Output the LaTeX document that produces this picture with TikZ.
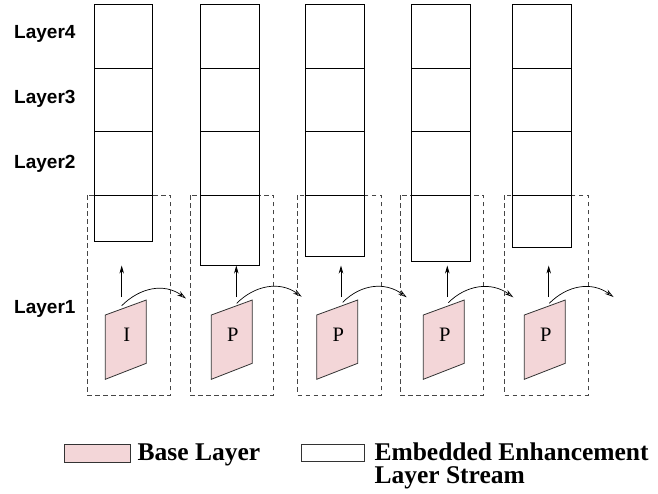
\documentclass[tikz,border=0pt]{standalone}
\usepackage{fontspec}
\setmainfont{Liberation Serif}
\newfontfamily\labelfont{Liberation Sans}
\usetikzlibrary{arrows.meta}
\definecolor{basepink}{RGB}{243,214,216}
\definecolor{dashgray}{RGB}{70,70,70}

\begin{document}
\begin{tikzpicture}[x=1pt,y=-1pt,
  layerbox/.style={draw, line width=0.8pt, inner sep=0pt, outer sep=0pt,
    minimum width=58.6pt, anchor=north west},
  groupbox/.style={draw=dashgray, line width=0.8pt, dash pattern=on 4.5pt off 3.5pt},
  baseframe/.style={draw=black!80, line width=0.8pt, fill=basepink},
  framelabel/.style={inner sep=0pt, anchor=base, font=\fontsize{20.5}{20.5}\selectfont},
  layerlabel/.style={inner sep=0pt, anchor=base west,
    font=\labelfont\bfseries\fontsize{19}{19}\selectfont},
  legendtext/.style={inner sep=0pt, anchor=base west,
    font=\bfseries\fontsize{25.5}{25.5}\selectfont},
  uparrow/.style={line width=0.7pt, -{Stealth[length=8pt,width=4.5pt,inset=2.5pt]}},
  predarrow/.style={line width=0.7pt, -{Stealth[open,length=9pt,width=5pt,inset=3pt]}}]

\useasboundingbox (0,0) rectangle (658,493);

% layer names on the left
\node[layerlabel] (l4) at (14,38.5) {Layer4};
\node[layerlabel] (l3) at (14,103.5) {Layer3};
\node[layerlabel] (l2) at (14,168) {Layer2};
\node[layerlabel] (l1) at (14,313) {Layer1};

% one column per frame:
% index / stack left / stack bottom / group left / frame left / up-arrow x /
% prediction arrow start (x,y) / prediction arrow end (x,y) / frame type
\foreach \i/\sx/\bot/\dl/\px/\ax/\csx/\csy/\cex/\cey/\ft in {
  1/94/241/87/105.3/121.7/121.7/305.7/186/298.5/I,
  2/200.5/265/190/211.3/236.3/236.7/303.3/301.7/296.7/P,
  3/305.7/256.7/297.7/316.7/341/342.7/302.3/406.7/297.3/P,
  4/411.7/261/400.3/423.3/447.3/448.3/302.7/513.3/297.3/P,
  5/512.7/247/504.7/524.3/548.7/549.3/303.3/613.5/297/P}{
  % dashed group around the frame and its first enhancement layer
  \draw[groupbox] (\dl,195) rectangle ++(83.3,200);
  % enhancement layer stack
  \node[layerbox, minimum height=63.5pt] (e4-\i) at (\sx,4.5) {};
  \node[layerbox, minimum height=63.5pt] (e3-\i) at (\sx,68) {};
  \node[layerbox, minimum height=63.5pt] (e2-\i) at (\sx,131.5) {};
  \pgfmathsetmacro{\bh}{\bot-195}
  \node[layerbox, minimum height=\bh pt] (e1-\i) at (\sx,195) {};
  % base layer frame
  \draw[baseframe] (\px,315) -- ++(41,-15) -- ++(0,63.3) -- ++(-41,16) -- cycle;
  \node[framelabel] (f\i) at (\px+21.5,341.5) {\ft};
  % arrows
  \coordinate (us\i) at (\ax,297);
  \coordinate (ut\i) at (\ax,265.5);
  \draw[uparrow] (us\i) -- (ut\i);
  \coordinate (ps\i) at (\csx,\csy);
  \coordinate (pt\i) at (\cex,\cey);
  \draw[predarrow] (ps\i) .. controls +(18,-18) and +(-22,-16) .. (pt\i);
}

% legend
\node[baseframe, inner sep=0pt, minimum width=66pt, minimum height=18pt,
  anchor=north west] (kb) at (64,443.5) {};
\node[legendtext] (kbt) at (137.5,460) {Base Layer};
\node[draw=black!80, line width=0.8pt, inner sep=0pt, minimum width=63.6pt,
  minimum height=17.3pt, anchor=north west] (ke) at (300.7,444) {};
\node[legendtext] (ket) at (374.3,460) {Embedded Enhancement};
\node[legendtext] (ket2) at (374.3,483.3) {Layer Stream};
\end{tikzpicture}
\end{document}
